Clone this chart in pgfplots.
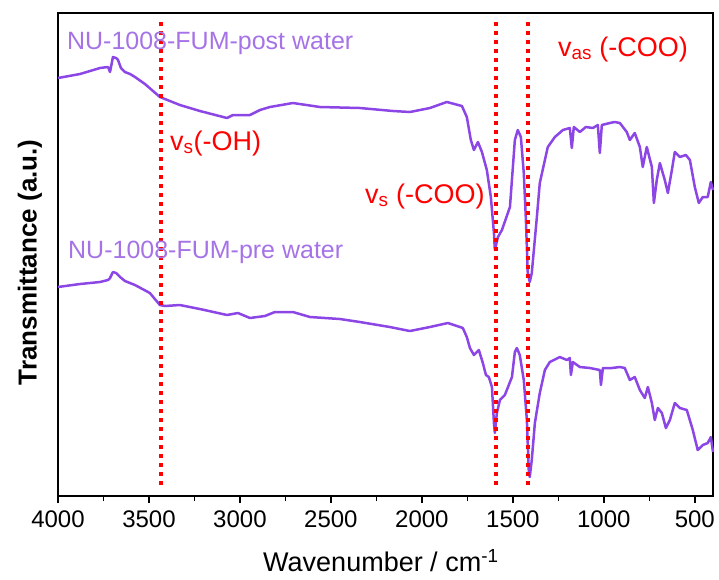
\documentclass[border=0pt]{standalone}
\usepackage{fontspec}
\setmainfont{Liberation Sans}
\usepackage{pgfplots}
\pgfplotsset{compat=1.18}
\definecolor{linepurple}{RGB}{140,70,230}
\definecolor{labpurple}{RGB}{165,115,230}
\definecolor{dotred}{RGB}{255,0,0}
\begin{document}
\begin{tikzpicture}
\begin{axis}[
 scale only axis, width=655pt, height=483pt,
 x dir=reverse, y dir=reverse,
 xmin=400, xmax=4000, ymin=13, ymax=496,
 xtick={500,1000,...,4000}, minor x tick num=1,
 xtick pos=bottom, ytick=\empty,
 tick align=outside,
 major tick length=7pt, minor tick length=5pt,
 axis line style={line width=1.8pt},
 every tick/.style={black, line width=1.5pt},
 xticklabel style={font=\fontsize{24}{28}\selectfont, yshift=-4pt},
 /pgf/number format/assume math mode=true,
 /pgf/number format/1000 sep={},
 xlabel={Wavenumber / cm\textsuperscript{-1}},
 ylabel={\bfseries Transmittance (a.u.)},
 every axis x label/.style={at={(axis description cs:0.493,-0.157)}, anchor=base, font=\fontsize{27}{31}\selectfont},
 every axis y label/.style={at={(axis description cs:-0.043,0.484)}, rotate=90, anchor=center, font=\fontsize{26}{30}\selectfont},
 clip=false,
]
\addplot[linepurple, line width=2.5pt, line join=round] coordinates {
(4000,78) (3879,74) (3769,68) (3725,67) (3714,72) (3698,57) (3681,58) (3670,60)
(3654,68) (3632,72) (3604,74) (3577,77) (3522,84) (3440,97) (3385,101) (3330,105)
(3220,111) (3071,118) (3038,115) (3000,115) (2945,115) (2890,110) (2835,107)
(2709,103) (2560,107) (2341,108) (2159,111) (2066,112) (1956,108) (1863,102)
(1780,106) (1753,117) (1731,140) (1714,150) (1692,142) (1670,152) (1643,170)
(1621,197) (1604,233) (1599,250) (1582,237) (1560,230) (1516,207) (1489,140)
(1473,130) (1456,137) (1440,173) (1429,217) (1418,273) (1407,282) (1396,273)
(1368,217) (1352,183) (1308,147) (1269,137) (1225,130) (1187,128) (1176,148)
(1165,127) (1132,132) (1099,127) (1060,128) (1033,125) (1022,153) (1011,125)
(967,123) (940,122) (912,123) (874,132) (857,140) (830,133) (802,147) (786,167)
(764,147) (736,167) (725,203) (709,180) (692,163) (665,180) (648,193) (626,170)
(610,152) (582,157) (549,155) (527,160) (500,187) (478,203) (456,197) (429,197)
(412,182) (400,190)
};
\addplot[linepurple, line width=2.5pt, line join=round] coordinates {
(4000,287) (3879,284) (3769,282) (3725,280) (3714,278) (3698,272) (3681,273)
(3659,277) (3632,281) (3577,285) (3495,293) (3440,305) (3412,306) (3330,305)
(3220,309) (3071,315) (3011,313) (2945,318) (2863,316) (2808,312) (2709,312)
(2615,317) (2451,319) (2341,322) (2176,327) (2066,331) (1956,327) (1857,323)
(1775,328) (1753,337) (1736,348) (1714,355) (1687,350) (1665,363) (1648,375)
(1632,377) (1615,387) (1604,423) (1599,433) (1588,413) (1571,400) (1544,395)
(1505,377) (1489,352) (1478,348) (1462,355) (1440,380) (1423,420) (1412,473)
(1407,477) (1396,460) (1379,423) (1352,393) (1324,370) (1297,362) (1242,357)
(1203,360) (1187,358) (1181,375) (1170,362) (1132,367) (1077,368) (1022,370)
(1016,385) (1005,368) (956,368) (912,367) (885,368) (857,380) (830,377) (802,390)
(775,398) (758,387) (736,403) (720,420) (703,408) (681,413) (659,428) (637,420)
(610,403) (582,408) (544,410) (511,430) (484,450) (456,445) (429,443) (412,437)
(400,452)
};
\addplot[dotred, line width=4pt, dash pattern=on 4pt off 5pt] coordinates {(3434,22) (3434,485)};
\addplot[dotred, line width=4pt, dash pattern=on 4pt off 5pt] coordinates {(1595,22) (1595,485)};
\addplot[dotred, line width=4pt, dash pattern=on 4pt off 5pt] coordinates {(1416,22) (1416,485)};
\node[anchor=base west, text=labpurple, font=\fontsize{25}{29}\selectfont, inner sep=0pt] at (axis cs:3951,49) {NU-1008-FUM-post water};
\node[anchor=base west, text=labpurple, font=\fontsize{25}{29}\selectfont, inner sep=0pt] at (axis cs:3945,258) {NU-1008-FUM-pre water};
\node[anchor=base west, text=dotred, font=\fontsize{27}{31}\selectfont, inner sep=0pt] at (axis cs:3385,150) {v\textsubscript{s}(-OH)};
\node[anchor=base west, text=dotred, font=\fontsize{27}{31}\selectfont, inner sep=0pt] at (axis cs:2313,203) {v\textsubscript{s} (-COO)};
\node[anchor=base west, text=dotred, font=\fontsize{27}{31}\selectfont, inner sep=0pt] at (axis cs:1253,56) {v\textsubscript{as} (-COO)};
\coordinate (BL) at (axis cs:4000,496);
\coordinate (TR) at (axis cs:400,13);
\end{axis}
\pgfresetboundingbox
\path[use as bounding box] ([shift={(-58pt,-83pt)}]BL) rectangle ([shift={(6pt,13pt)}]TR);
\end{tikzpicture}
\end{document}
